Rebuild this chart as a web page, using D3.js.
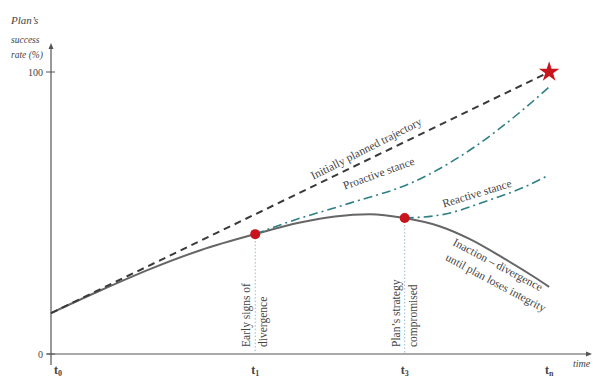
<!DOCTYPE html>
<html><head><meta charset="utf-8">
<script src="https://cdn.jsdelivr.net/npm/d3@7"></script>
<style>body{margin:0;background:#fff}svg{display:block}text{font-family:"Liberation Serif","DejaVu Serif",serif;fill:#444}</style>
</head><body><svg id="c" width="594" height="381"></svg>
<script>
// ---- data ----
const planned = [[0,14.5],[100,100]];
const inaction = [[0,14.5],[10,22.6],[20,30.2],[30,36.8],[41,42.5],[50,46.6],[57,48.8],[64,49.6],[71,48.2],[78,45.3],[84,40.8],[91,33.8],[97,27.3],[100,23.8]];
const proactive = [[41,42.5],[47,46.4],[60,53.5],[72.5,60.8],[85,73.4],[95,87],[100,94.7]];
const reactive = [[71,48.2],[78.5,49.4],[88,54.6],[95,59.2],[100,63.5]];
const milestones = [[41,42.5],[71,48.2]];
const target = [[100,100]];
const xTicks = [1.4,41,71,100];
const xTickLabels = ["0","1","3","n"];
const yTicks = [0,100];
const milestoneLabels = [["Early signs of","divergence"],["Plan\u2019s strategy","compromised"]];

// ---- scales ----
const svg = d3.select("#c");
const x = d3.scaleLinear().domain([0,108.2]).range([51,590]);
const y = d3.scaleLinear().domain([0,100]).range([354,72]);
const line = d3.line().x(d=>x(d[0])).y(d=>y(d[1])).curve(d3.curveMonotoneX);

// axes
const ax = "#555";
svg.append("line").attr("x1",47).attr("x2",587).attr("y1",y(0)).attr("y2",y(0)).attr("stroke",ax).attr("stroke-width",1.2);
svg.append("path").attr("d",`M592,${y(0)} l-6,-2.5 l0,5z`).attr("fill",ax);
svg.append("line").attr("x1",x(0)).attr("x2",x(0)).attr("y1",365).attr("y2",48).attr("stroke",ax).attr("stroke-width",1.2);
svg.append("path").attr("d",`M${x(0)},43 l-2.5,6 l5,0z`).attr("fill",ax);
yTicks.forEach(v=>{
  svg.append("line").attr("x1",x(0)-5).attr("x2",x(0)+4).attr("y1",y(v)).attr("y2",y(v)).attr("stroke",ax);
  svg.append("text").attr("x",x(0)-8).attr("y",y(v)+4).attr("text-anchor","end").attr("font-size",10).text(v);
});
xTicks.forEach((v,i)=>{
  const t = svg.append("text").attr("x",x(v)).attr("y",374).attr("text-anchor","middle").attr("font-size",12).attr("font-weight","bold").attr("fill","#555");
  t.append("tspan").text("t");
  t.append("tspan").attr("dy",2).attr("font-size",8).text(xTickLabels[i]);
});
// axis titles
const yl = ["Plan\u2019s","success","rate (%)"];
yl.forEach((s,i)=>svg.append("text").attr("x",11).attr("y",[24,43,58][i]).attr("font-size",[11,9.5,9.5][i]).attr("font-style","italic").text(s));
svg.append("text").attr("x",573).attr("y",367).attr("font-size",10).attr("font-style","italic").text("time");

// milestone verticals
milestones.forEach((m,i)=>{
  svg.append("line").attr("x1",x(m[0])).attr("x2",x(m[0])).attr("y1",y(m[1])).attr("y2",y(0)).attr("stroke","#9ab8c8").attr("stroke-width",1).attr("stroke-dasharray","1.5,2");
  milestoneLabels[i].forEach((s,j)=>{
    svg.append("text").attr("transform",`translate(${x(m[0])+(j===0?-5:12)},347) rotate(-90)`).attr("font-size",11.5).text(s);
  });
});

// curves
svg.append("path").datum(inaction).attr("d",line).attr("fill","none").attr("stroke","#666").attr("stroke-width",2);
svg.append("path").datum(planned).attr("d",line).attr("fill","none").attr("stroke","#3a3a3a").attr("stroke-width",2).attr("stroke-dasharray","7,5");
svg.append("path").datum(proactive).attr("d",line).attr("fill","none").attr("stroke","#2f7f86").attr("stroke-width",1.6).attr("stroke-dasharray","9,4,2,4");
svg.append("path").datum(reactive).attr("d",line).attr("fill","none").attr("stroke","#2f7f86").attr("stroke-width",1.6).attr("stroke-dasharray","9,4,2,4");

// dots and star
svg.selectAll("circle.m").data(milestones).join("circle").attr("cx",d=>x(d[0])).attr("cy",d=>y(d[1])).attr("r",5).attr("fill","#c8141c");
svg.selectAll("path.star").data(target).join("path").attr("d",d3.symbol(d3.symbolStar,130)).attr("transform",d=>`translate(${x(d[0])},${y(d[1])})`).attr("fill","#c8141c");

// curve labels
function lab(s,cx,cy,a,fs){svg.append("text").attr("transform",`translate(${cx},${cy}) rotate(${a})`).attr("text-anchor","middle").attr("font-size",fs||11.5).text(s);}
lab("Initially planned trajectory",368,152,-27);
lab("Proactive stance",380,177,-20);
lab("Reactive stance",478,197,-17);
lab("Inaction \u2013 divergence",496,268,28);
lab("until plan loses integrity",494,286,28);
</script></body></html>
